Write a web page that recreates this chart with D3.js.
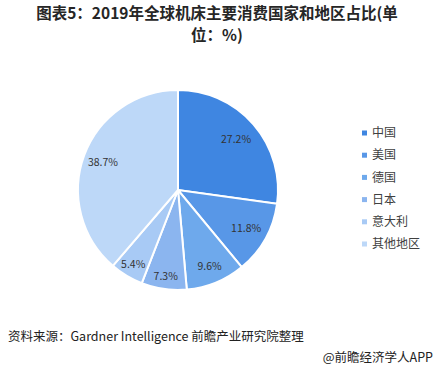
<!DOCTYPE html>
<html><head><meta charset="utf-8">
<script src="https://cdn.jsdelivr.net/npm/d3@7"></script>
<style>body{margin:0;background:#fff;} svg{display:block;}</style>
</head><body>
<script>
const categories = ["中国","美国","德国","日本","意大利","其他地区"];
const values = [27.2, 11.8, 9.6, 7.3, 5.4, 38.7];
const colors = ["#3f86e1","#5897e7","#6ea9ec","#8bb5ef","#a8caf5","#bdd8f8"];

const W = 435, H = 371;
const svg = d3.select("body").append("svg").attr("width", W).attr("height", H);
const font = "'Microsoft YaHei','Noto Sans CJK SC',sans-serif";

svg.append("text").attr("x", 217).attr("y", 19).attr("text-anchor","middle")
  .attr("font-family", font).attr("font-size", 15.5).attr("font-weight","bold").attr("fill","#262626")
  .text("图表5：2019年全球机床主要消费国家和地区占比(单");
svg.append("text").attr("x", 217).attr("y", 41).attr("text-anchor","middle")
  .attr("font-family", font).attr("font-size", 15.5).attr("font-weight","bold").attr("fill","#262626")
  .text("位：%)");

const cx = 178, cy = 190, r = 100;
const pie = d3.pie().sort(null).value(d => d)(values);
const arc = d3.arc().innerRadius(0).outerRadius(r);
const g = svg.append("g").attr("transform", `translate(${cx},${cy})`);
g.selectAll("path").data(pie).join("path")
  .attr("d", arc).attr("fill", (d,i) => colors[i])
  .attr("stroke", "#fff").attr("stroke-width", 2);
const labelR = [0.77,0.78,0.83,0.87,0.87,0.8];
g.selectAll("text.lbl").data(pie).join("text").attr("class","lbl")
  .attr("transform", (d,i) => {
    const a = (d.startAngle + d.endAngle)/2;
    const rr = r*labelR[i];
    return `translate(${Math.sin(a)*rr},${-Math.cos(a)*rr})`;
  })
  .attr("text-anchor","middle").attr("dy","0.35em")
  .attr("font-family", font).attr("font-size", 10.5).attr("fill","#333")
  .text(d => d.data.toFixed(1) + "%");

const leg = svg.append("g");
const ly = d3.scalePoint().domain(categories).range([133, 244]);
categories.forEach((c,i) => {
  leg.append("rect").attr("x", 362).attr("y", ly(c)-2.5).attr("width",5).attr("height",5).attr("fill", colors[i]);
  leg.append("text").attr("x", 372).attr("y", ly(c)).attr("dy","0.35em")
    .attr("font-family", font).attr("font-size", 12).attr("fill","#404040").text(c);
});

svg.append("text").attr("x", 8).attr("y", 341)
  .attr("font-family", font).attr("font-size", 12.5).attr("fill","#222")
  .text("资料来源：Gardner Intelligence 前瞻产业研究院整理");
svg.append("text").attr("x", 433).attr("y", 362).attr("text-anchor","end")
  .attr("font-family", font).attr("font-size", 12.5).attr("fill","#222")
  .text("@前瞻经济学人APP");
</script>
</body></html>
